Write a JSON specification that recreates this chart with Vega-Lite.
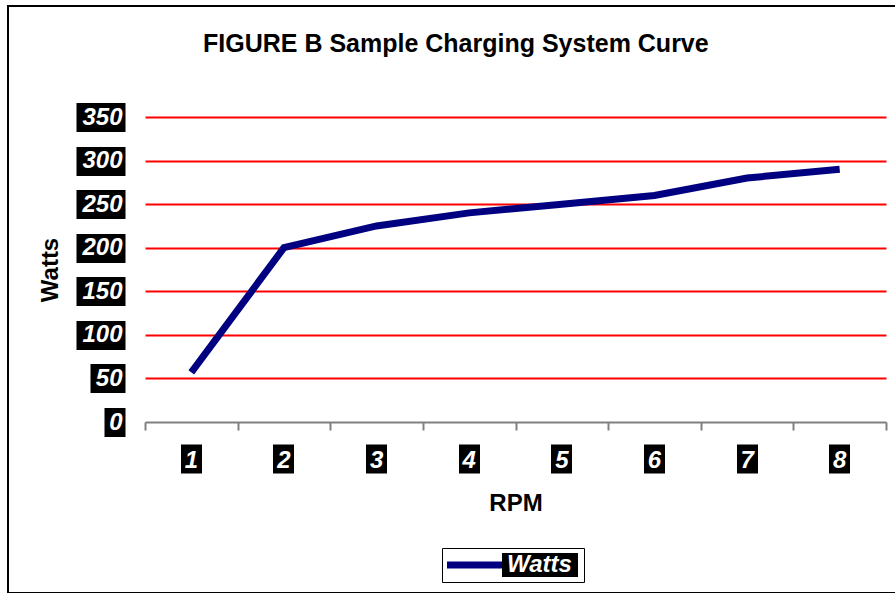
{
  "$schema": "https://vega.github.io/schema/vega-lite/v6.json",
  "width": 1000,
  "height": 587,
  "autosize": {"type": "none"},
  "padding": {"left": 8, "top": 6, "right": 0, "bottom": 0},
  "background": "white",
  "config": {
    "font": "Liberation Sans",
    "view": {"stroke": "black", "strokeWidth": 2}
  },
  "title": {
    "text": "FIGURE B Sample Charging System Curve",
    "font": "Liberation Sans",
    "fontSize": 25,
    "fontWeight": "bold",
    "color": "black",
    "anchor": "start",
    "baseline": "alphabetic",
    "offset": -71,
    "dx": 195
  },
  "data": {
    "values": [
      {"RPM": 1, "Watts": 57},
      {"RPM": 2, "Watts": 200},
      {"RPM": 3, "Watts": 225},
      {"RPM": 4, "Watts": 240},
      {"RPM": 5, "Watts": 250},
      {"RPM": 6, "Watts": 260},
      {"RPM": 7, "Watts": 280},
      {"RPM": 8, "Watts": 290}
    ]
  },
  "encoding": {
    "y": {
      "field": "Watts",
      "type": "quantitative",
      "scale": {"domain": [0, 350], "range": [416, 111], "nice": false},
      "axis": {
        "orient": "left",
        "offset": -117,
        "values": [0, 50, 100, 150, 200, 250, 300, 350],
        "domain": false,
        "grid": true,
        "gridColor": "#ff0000",
        "gridWidth": 2,
        "gridOpacity": {"condition": {"test": "datum.value === 0", "value": 0}, "value": 1},
        "ticks": true,
        "tickColor": "black",
        "tickWidth": 29,
        "tickSize": {"expr": "datum.value >= 100 ? 49 : (datum.value >= 10 ? 35 : 21)"},
        "labelPadding": {"expr": "datum.value >= 100 ? -46 : (datum.value >= 10 ? -32 : -18)"},
        "labelColor": "white",
        "labelFont": "Liberation Sans",
        "labelFontSize": 24,
        "labelFontWeight": "bold",
        "labelFontStyle": "italic",
        "labelAlign": "right",
        "labelBaseline": "middle",
        "labelFlush": false,
        "labelOverlap": false,
        "title": "Watts",
        "titleFont": "Liberation Sans",
        "titleFontSize": 24,
        "titleFontWeight": "bold",
        "titleColor": "black",
        "titlePadding": -1
      }
    }
  },
  "layer": [
    {
      "mark": {"type": "line", "strokeWidth": 7, "strokeCap": "butt"},
      "encoding": {
        "x": {
          "field": "RPM",
          "type": "ordinal",
          "scale": {"type": "band", "paddingInner": 0, "paddingOuter": 0, "range": [137, 878]},
          "axis": {
            "orient": "bottom",
            "offset": -171,
            "domain": true,
            "domainColor": "#808080",
            "domainWidth": 2,
            "ticks": true,
            "tickBand": "extent",
            "tickColor": "#808080",
            "tickWidth": 2,
            "tickSize": 8,
            "labels": false,
            "grid": false,
            "title": null
          }
        },
        "color": {
          "datum": "Watts",
          "type": "nominal",
          "scale": {"range": ["#000080"]},
          "legend": {
            "title": null,
            "orient": "none",
            "legendX": 434,
            "legendY": 542,
            "padding": 5,
            "strokeColor": "black",
            "fillColor": "white",
            "symbolType": "M-1,-0.292H3.583V0.292H-1ZM3.583,-1H9.917V1H3.583Z",
            "symbolSize": 576,
            "symbolStrokeWidth": 0,
            "labelFont": "Liberation Sans",
            "labelFontSize": 24,
            "labelFontWeight": "bold",
            "labelFontStyle": "italic",
            "labelColor": "white",
            "labelOffset": 36,
            "encode": {
              "symbols": {
                "update": {
                  "fill": {"value": {"gradient": "linear", "x1": 0, "y1": 0, "x2": 1, "y2": 0, "stops": [
                    {"offset": 0, "color": "#000080"},
                    {"offset": 0.42, "color": "#000080"},
                    {"offset": 0.42, "color": "black"},
                    {"offset": 1, "color": "black"}
                  ]}},
                  "stroke": {"value": "transparent"},
                  "strokeWidth": {"value": 0}
                }
              }
            }
          }
        }
      }
    },
    {
      "mark": {"type": "line", "opacity": 0},
      "encoding": {
        "x": {
          "field": "RPM",
          "type": "ordinal",
          "scale": {"type": "band", "paddingInner": 0, "paddingOuter": 0, "range": [137, 878]},
          "axis": {
            "orient": "bottom",
            "offset": -149,
            "domain": false,
            "ticks": true,
            "tickColor": "black",
            "tickWidth": 21,
            "tickSize": 29,
            "labels": true,
            "labelAngle": 0,
            "labelColor": "white",
            "labelFont": "Liberation Sans",
            "labelFontSize": 24,
            "labelFontWeight": "bold",
            "labelFontStyle": "italic",
            "labelBaseline": "alphabetic",
            "labelPadding": -6,
            "grid": false,
            "title": "RPM",
            "titleFont": "Liberation Sans",
            "titleFontSize": 24,
            "titleFontWeight": "bold",
            "titleColor": "black",
            "titlePadding": 8
          }
        }
      }
    }
  ],
  "resolve": {"axis": {"x": "independent"}}
}
